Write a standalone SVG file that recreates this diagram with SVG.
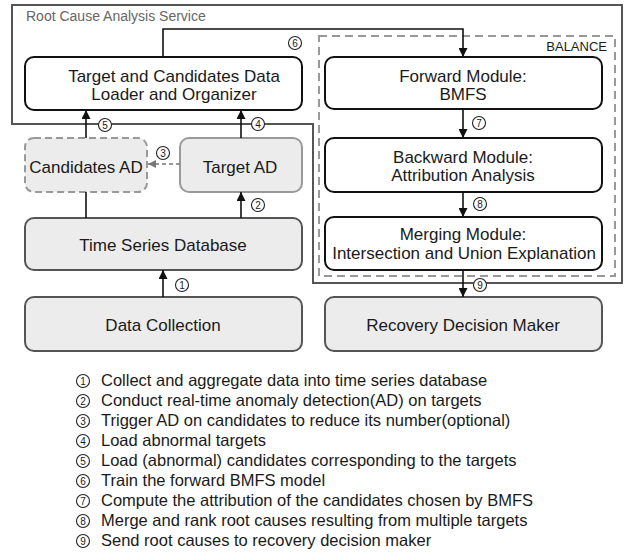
<svg xmlns="http://www.w3.org/2000/svg" width="624" height="554" viewBox="0 0 624 554">
<style>
  text { font-family: "Liberation Sans", Arial, sans-serif; fill: #1a1a1a; }
  .box { font-size: 17px; text-anchor: middle; }
  .leg { font-size: 16.5px; }
  .num { font-size: 10px; text-anchor: middle; }
  .cw { fill: #fff; stroke: #222; stroke-width: 1.1; }
  .main { fill: #fff; stroke: #111; stroke-width: 2; }
  .gray { fill: #ececec; stroke: #555; stroke-width: 2; }
  .conn { stroke: #111; stroke-width: 1.6; fill: none; }
</style>
<defs>
  <marker id="ah" viewBox="0 0 10 10" refX="10" refY="5" markerWidth="9" markerHeight="9" markerUnits="userSpaceOnUse" orient="auto">
    <path d="M0,0 L10,5 L0,10 z" fill="#111"/>
  </marker>
  <marker id="ahg" viewBox="0 0 10 10" refX="10" refY="5" markerWidth="8" markerHeight="8" markerUnits="userSpaceOnUse" orient="auto">
    <path d="M0,0 L10,5 L0,10 z" fill="#777"/>
  </marker>
</defs>

<g id="rca-service">
  <path d="M12,5 H622 V283 H313 V124 H12 Z" fill="none" stroke="#555" stroke-width="2"/>
  <text x="26" y="20.5" style="font-size:14px; fill:#666">Root Cause Analysis Service</text>
</g>

<g id="balance">
  <rect x="319" y="36" width="296" height="240" fill="none" stroke="#999" stroke-width="2" stroke-dasharray="8,5"/>
  <text x="607" y="51" style="font-size:13px; text-anchor:end">BALANCE</text>
</g>

<g id="loader">
  <rect class="main" x="25" y="57" width="277" height="53" rx="9"/>
  <text class="box" x="174" y="82">Target and Candidates Data</text>
  <text class="box" x="174" y="100">Loader and Organizer</text>
</g>

<g id="candidates-ad">
  <rect x="25" y="138" width="122" height="54" rx="9" fill="#ececec" stroke="#999" stroke-width="2" stroke-dasharray="7,4"/>
  <text class="box" x="86" y="172.5">Candidates AD</text>
</g>

<g id="target-ad">
  <rect x="180" y="138" width="122" height="54" rx="9" fill="#ececec" stroke="#999" stroke-width="2"/>
  <text class="box" x="240" y="172.5">Target AD</text>
</g>

<g id="tsdb">
  <rect class="gray" x="25" y="218" width="277" height="52" rx="9"/>
  <text class="box" x="163" y="251">Time Series Database</text>
</g>

<g id="data-collection">
  <rect class="gray" x="25" y="297" width="277" height="54" rx="9"/>
  <text class="box" x="163" y="331">Data Collection</text>
</g>

<g id="forward">
  <rect class="main" x="325" y="57" width="277" height="52" rx="9"/>
  <text class="box" x="463" y="82">Forward Module:</text>
  <text class="box" x="463" y="100">BMFS</text>
</g>

<g id="backward">
  <rect class="main" x="325" y="138" width="277" height="54" rx="9"/>
  <text class="box" x="463" y="163">Backward Module:</text>
  <text class="box" x="463" y="181">Attribution Analysis</text>
</g>

<g id="merging">
  <rect class="main" x="325" y="217" width="277" height="53" rx="9"/>
  <text class="box" x="463" y="240">Merging Module:</text>
  <text class="box" x="464" y="259">Intersection and Union Explanation</text>
</g>

<g id="recovery">
  <rect class="gray" x="325" y="297" width="277" height="54" rx="9"/>
  <text class="box" x="463" y="331">Recovery Decision Maker</text>
</g>

<g id="connectors">
  <path class="conn" d="M163,57 V29 H463 V57" marker-end="url(#ah)"/>
  <path class="conn" d="M463,109 V138" marker-end="url(#ah)"/>
  <path class="conn" d="M463,192 V217" marker-end="url(#ah)"/>
  <path class="conn" d="M463,270 V297" marker-end="url(#ah)"/>
  <path class="conn" d="M86,138 V110" marker-end="url(#ah)"/>
  <path class="conn" d="M241,138 V110" marker-end="url(#ah)"/>
  <path d="M180,164 H148" stroke="#777" stroke-width="1.5" stroke-dasharray="4,3" fill="none" marker-end="url(#ahg)"/>
  <path class="conn" d="M86,192 V218"/>
  <path class="conn" d="M241,218 V192" marker-end="url(#ah)"/>
  <path class="conn" d="M163,297 V270" marker-end="url(#ah)"/>
  <g id="step-labels">
    <circle class="cw" cx="295" cy="43" r="6.5"/><text class="num" x="295" y="46.5">6</text>
    <circle class="cw" cx="105" cy="125" r="6.5"/><text class="num" x="105" y="128.5">5</text>
    <circle class="cw" cx="258" cy="124" r="6.5"/><text class="num" x="258" y="127.5">4</text>
    <circle class="cw" cx="163" cy="153" r="6.5"/><text class="num" x="163" y="156.5">3</text>
    <circle class="cw" cx="258" cy="205" r="6.5"/><text class="num" x="258" y="208.5">2</text>
    <circle class="cw" cx="182" cy="285" r="6.5"/><text class="num" x="182" y="288.5">1</text>
    <circle class="cw" cx="479" cy="123" r="6.5"/><text class="num" x="479" y="126.5">7</text>
    <circle class="cw" cx="480" cy="204" r="6.5"/><text class="num" x="480" y="207.5">8</text>
    <circle class="cw" cx="480" cy="285" r="6.5"/><text class="num" x="480" y="288.5">9</text>
  </g>
</g>

<g id="legend">
  <g>
    <circle class="cw" cx="83" cy="381" r="6.5"/><text class="num" x="83" y="384.5">1</text>
    <circle class="cw" cx="83" cy="401" r="6.5"/><text class="num" x="83" y="404.5">2</text>
    <circle class="cw" cx="83" cy="421" r="6.5"/><text class="num" x="83" y="424.5">3</text>
    <circle class="cw" cx="83" cy="441" r="6.5"/><text class="num" x="83" y="444.5">4</text>
    <circle class="cw" cx="83" cy="461" r="6.5"/><text class="num" x="83" y="464.5">5</text>
    <circle class="cw" cx="83" cy="481" r="6.5"/><text class="num" x="83" y="484.5">6</text>
    <circle class="cw" cx="83" cy="501" r="6.5"/><text class="num" x="83" y="504.5">7</text>
    <circle class="cw" cx="83" cy="521" r="6.5"/><text class="num" x="83" y="524.5">8</text>
    <circle class="cw" cx="83" cy="541" r="6.5"/><text class="num" x="83" y="544.5">9</text>
  </g>
  <text class="leg" x="101" y="386">Collect and aggregate data into time series database</text>
  <text class="leg" x="101" y="406">Conduct real-time anomaly detection(AD) on targets</text>
  <text class="leg" x="101" y="426">Trigger AD on candidates to reduce its number(optional)</text>
  <text class="leg" x="101" y="446">Load abnormal targets</text>
  <text class="leg" x="101" y="466">Load (abnormal) candidates corresponding to the targets</text>
  <text class="leg" x="101" y="486">Train the forward BMFS model</text>
  <text class="leg" x="101" y="506">Compute the attribution of the candidates chosen by BMFS</text>
  <text class="leg" x="101" y="526">Merge and rank root causes resulting from multiple targets</text>
  <text class="leg" x="101" y="546">Send root causes to recovery decision maker</text>
</g>
</svg>
